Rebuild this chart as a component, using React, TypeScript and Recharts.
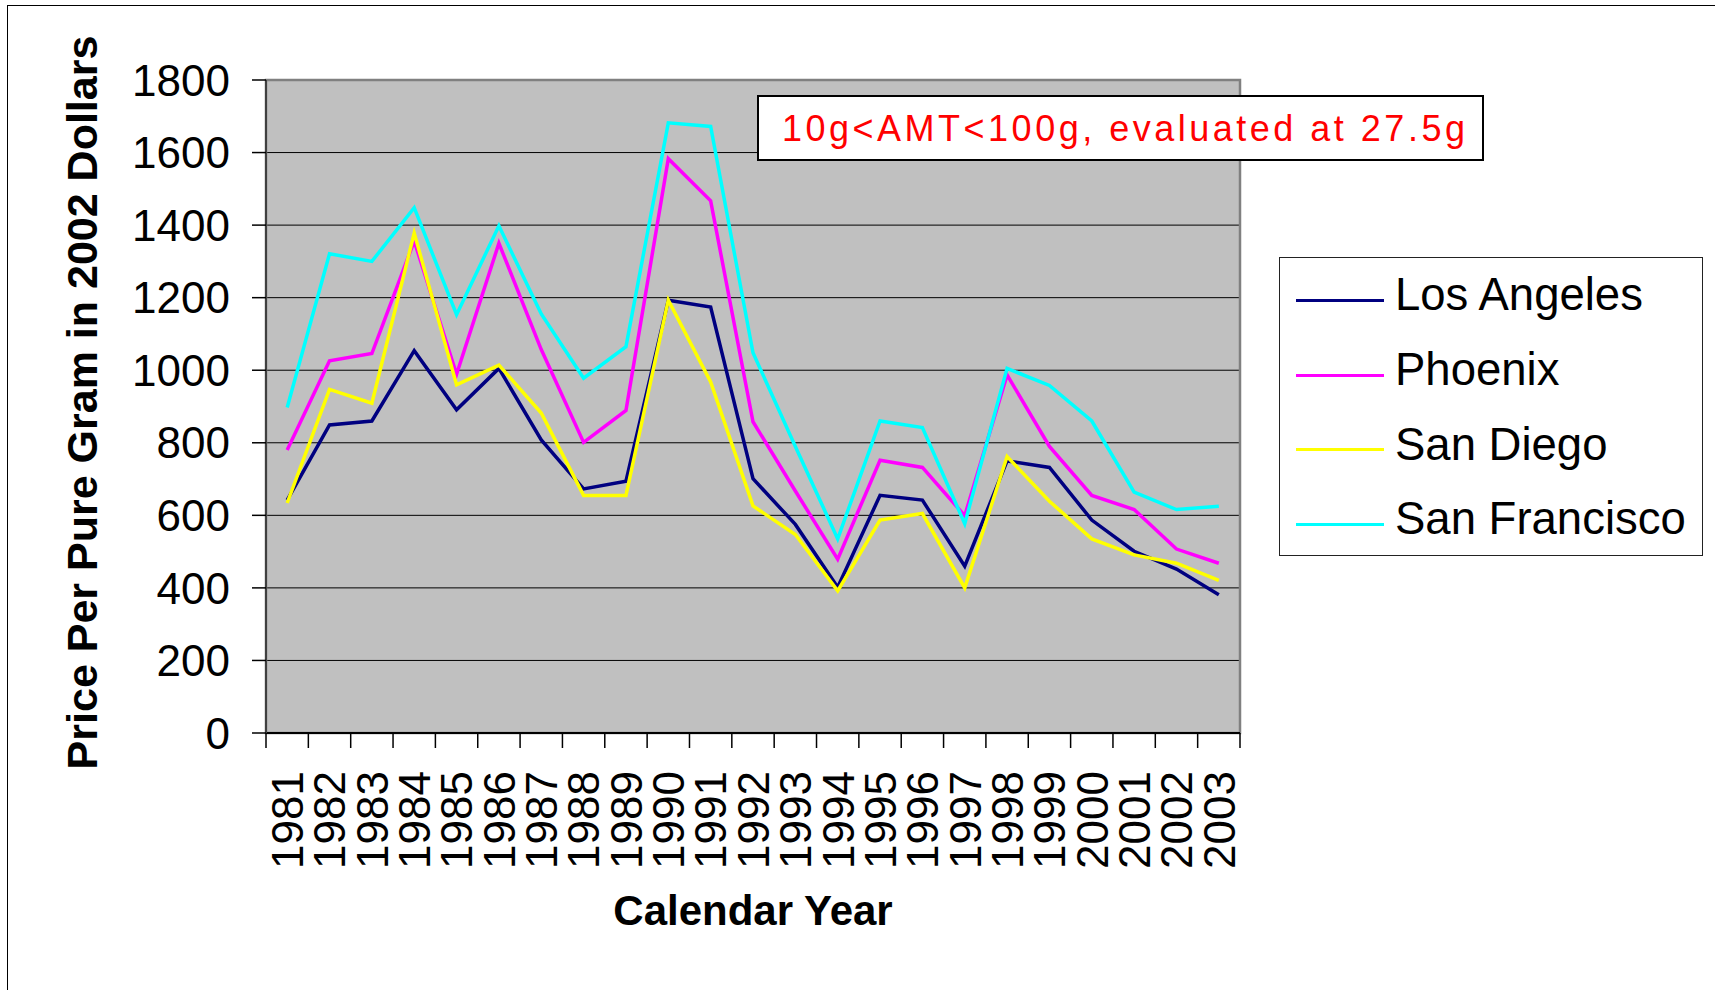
import React from 'react';
import { LineChart, Line, XAxis, YAxis, CartesianGrid, Legend, ReferenceArea } from 'recharts';

const years = [
  '1981', '1982', '1983', '1984', '1985', '1986', '1987', '1988', '1989', '1990', '1991', '1992',
  '1993', '1994', '1995', '1996', '1997', '1998', '1999', '2000', '2001', '2002', '2003',
];
const losAngeles = [642, 849, 860, 1054, 891, 1005, 808, 673, 694, 1193, 1174, 701, 575, 402, 655, 642, 460, 750, 732, 587, 501, 452, 381];
const phoenix = [780, 1026, 1046, 1356, 989, 1350, 1057, 801, 889, 1583, 1467, 858, 667, 479, 752, 732, 599, 987, 790, 655, 616, 507, 468];
const sanDiego = [634, 947, 909, 1378, 960, 1014, 882, 655, 655, 1193, 968, 626, 547, 392, 587, 605, 400, 762, 639, 535, 491, 468, 421];
const sanFrancisco = [897, 1321, 1300, 1448, 1153, 1398, 1155, 978, 1065, 1682, 1672, 1048, 790, 535, 860, 842, 577, 1005, 958, 860, 664, 616, 625];
const yTicks = [0, 200, 400, 600, 800, 1000, 1200, 1400, 1600, 1800];

const FONT = "'Liberation Sans', Arial, sans-serif";
const PLOT_W = 1715 - 266 - 475;
const YEAR_GAP = 38;

const data = years.map((year, i) => ({
  year,
  la: losAngeles[i],
  phx: phoenix[i],
  sd: sanDiego[i],
  sf: sanFrancisco[i],
}));

// Excel puts the tick marks between categories, so draw them at the band edges
const YearTick = ({ x, y, payload, index }: any) => {
  const half = payload && payload.offset ? payload.offset : PLOT_W / years.length / 2;
  const top = y - YEAR_GAP;
  return (
    <g>
      <line x1={x - half} x2={x - half} y1={top} y2={top + 15} stroke="#000" strokeWidth={1.5} />
      {index === years.length - 1 && (
        <line x1={x + half} x2={x + half} y1={top} y2={top + 15} stroke="#000" strokeWidth={1.5} />
      )}
      <text
        x={x}
        y={y}
        transform={`rotate(-90, ${x}, ${y})`}
        textAnchor="end"
        dy="0.36em"
        fontSize={44}
        fontFamily={FONT}
        fill="#000"
      >
        {payload.value}
      </text>
    </g>
  );
};

const LegendBox = ({ payload }: any) => (
  <div
    style={{
      border: '1px solid #222',
      background: '#fff',
      width: 424,
      height: 299,
      boxSizing: 'border-box',
      paddingTop: 5,
      fontFamily: FONT,
      fontSize: 45.5,
      color: '#000',
    }}
  >
    {(payload || []).map((p: any) => (
      <div key={p.value} style={{ display: 'flex', alignItems: 'center', height: 74.7 }}>
        <span style={{ display: 'inline-block', width: 88, height: 3, background: p.color, marginLeft: 16, marginRight: 11 }} />
        <span style={{ position: 'relative', top: -5, whiteSpace: 'nowrap' }}>{p.value}</span>
      </div>
    ))}
  </div>
);

const App = () => {
  return (
    <div style={{ position: 'absolute', left: 0, top: 0, width: 1715, height: 990, overflow: 'hidden', background: '#fff' }}>
      <div style={{ position: 'absolute', left: 7, top: 5, width: 1800, height: 1100, border: '1.5px solid #000' }} />
      <div style={{ position: 'absolute', left: 0, top: 0 }}>
        <LineChart width={1715} height={990} data={data} margin={{ top: 80, right: 475, bottom: 0, left: 0 }}>
          <CartesianGrid vertical={false} fill="#C0C0C0" fillOpacity={1} stroke="#000" strokeWidth={1} />
          <XAxis
            dataKey="year"
            scale="band"
            interval={0}
            height={257}
            axisLine={{ stroke: '#000', strokeWidth: 2 }}
            tickLine={false}
            tickSize={0}
            tickMargin={YEAR_GAP}
            tick={<YearTick />}
            label={{
              content: ({ viewBox }: any) => (
                <text
                  x={viewBox.x + viewBox.width / 2}
                  y={925}
                  textAnchor="middle"
                  fontSize={42}
                  fontWeight="bold"
                  fontFamily={FONT}
                  fill="#000"
                >
                  Calendar Year
                </text>
              ),
            }}
          />
          <YAxis
            domain={[0, 1800]}
            ticks={yTicks}
            interval={0}
            width={266}
            axisLine={{ stroke: '#404040', strokeWidth: 2 }}
            tickLine={{ stroke: '#000', strokeWidth: 1.5 }}
            tickSize={14}
            tickMargin={22}
            tick={{ fontSize: 44, fontFamily: FONT, fill: '#000' }}
            label={{
              content: ({ viewBox }: any) => {
                const cy = viewBox.y + viewBox.height / 2 - 4;
                return (
                  <text
                    x={97}
                    y={cy}
                    transform={`rotate(-90, 97, ${cy})`}
                    textAnchor="middle"
                    fontSize={43}
                    fontWeight="bold"
                    fontFamily={FONT}
                    fill="#000"
                  >
                    Price Per Pure Gram in 2002 Dollars
                  </text>
                );
              },
            }}
          />
          <ReferenceArea y1={0} y2={1800} fill="none" stroke="#808080" strokeWidth={2.5} ifOverflow="visible" />
          <Legend
            layout="vertical"
            align="center"
            verticalAlign="middle"
            wrapperStyle={{ left: 1279, top: 257, width: 424, height: 299 }}
            content={<LegendBox />}
          />
          <Line type="linear" dataKey="la" name="Los Angeles" stroke="#000080" strokeWidth={3.5} dot={false} activeDot={false} isAnimationActive={false} />
          <Line type="linear" dataKey="phx" name="Phoenix" stroke="#FF00FF" strokeWidth={3.5} dot={false} activeDot={false} isAnimationActive={false} />
          <Line type="linear" dataKey="sd" name="San Diego" stroke="#FFFF00" strokeWidth={3.5} dot={false} activeDot={false} isAnimationActive={false} />
          <Line type="linear" dataKey="sf" name="San Francisco" stroke="#00FFFF" strokeWidth={3.5} dot={false} activeDot={false} isAnimationActive={false} />
        </LineChart>
      </div>
      <div
        style={{
          position: 'absolute',
          left: 757,
          top: 95,
          width: 727,
          height: 66,
          boxSizing: 'border-box',
          border: '2px solid #000',
          background: '#fff',
          color: '#FF0000',
          fontFamily: FONT,
          fontSize: 36,
          letterSpacing: 3.5,
          lineHeight: '60px',
          paddingLeft: 23,
          paddingTop: 2,
          whiteSpace: 'nowrap',
        }}
      >
        10g&lt;AMT&lt;100g, evaluated at 27.5g
      </div>
    </div>
  );
};

export default App;
